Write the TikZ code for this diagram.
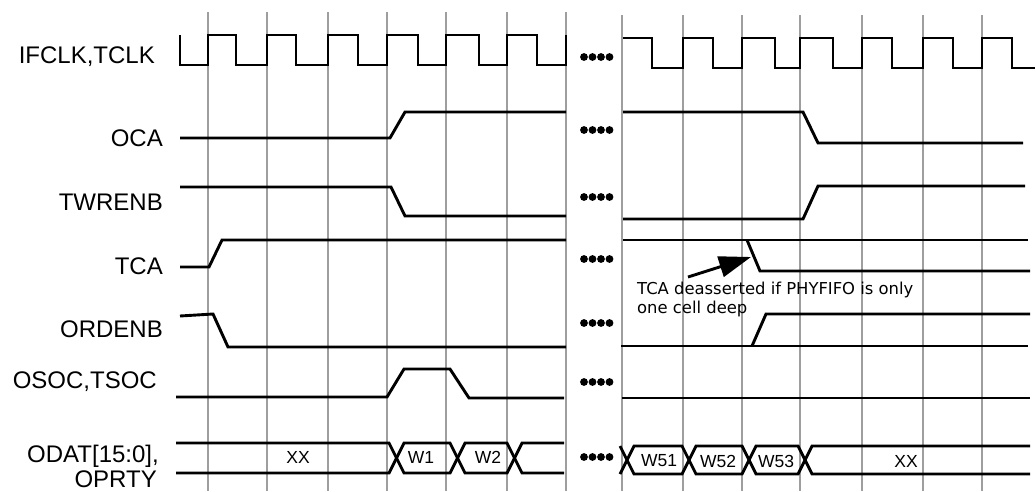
\documentclass[tikz,border=0pt]{standalone}
\usepackage{fontspec}
\setmainfont{Liberation Sans}
\newfontfamily\notefont{DejaVu Sans}
\usetikzlibrary{arrows.meta}
\tikzset{
  grid/.style={draw=black!38, line width=1.4pt},
  sig/.style={draw=black, line width=2.9pt, line join=miter},
  lbl/.style={anchor=base east, inner sep=0pt, font=\fontsize{24}{28}\selectfont},
  buslbl/.style={inner sep=0pt, font=\fontsize{17.5}{20}\selectfont},
  dots/.style={fill=black},
  notetext/.style={anchor=base west, inner sep=0pt, align=left, font=\notefont\fontsize{16.4}{18.5}\selectfont},
  notearrow/.style={draw=black, line width=2.9pt, -{Triangle[length=32pt,width=21pt]}}
}
\newcommand{\fourdots}[1]{%
  \foreach \dx in {584,592.5,601,609.5} {\fill[dots] (\dx,#1) circle (3.9);}}
\begin{document}
\begin{tikzpicture}[x=1pt,y=-1pt]
\useasboundingbox (0,0) rectangle (1036,491);
\fill[white] (0,0) rectangle (1036,491);
% grid
\foreach \gx in {208,267,328,387,446,507,566} {\draw[grid] (\gx,12) -- (\gx,491);}
\foreach \gx in {622,683,742,800,862,923,982} {\draw[grid] (\gx,15) -- (\gx,491);}
% labels
\node[lbl] (lclk) at (155,63) {IFCLK,TCLK};
\node[lbl] (loca) at (163,146) {OCA};
\node[lbl] (ltwr) at (163,210) {TWRENB};
\node[lbl] (ltca) at (163,274) {TCA};
\node[lbl] (lord) at (163,337) {ORDENB};
\node[lbl] (lsoc) at (157,388) {OSOC,TSOC};
\node[lbl] (ldat) at (159,462) {ODAT[15:0],};
\node[lbl] (lprt) at (157,487.5) {OPRTY};
% clock
\draw[sig] (180,35) -- (180,65) -- (208,65) -- (208,35) -- (236,35) -- (236,65) -- (267,65) -- (267,35)
  -- (296,35) -- (296,65) -- (328,65) -- (328,35) -- (358,35) -- (358,65) -- (387,65) -- (387,35)
  -- (418,35) -- (418,65) -- (446,65) -- (446,35) -- (479,35) -- (479,65) -- (507,65) -- (507,35)
  -- (537,35) -- (537,65) -- (566,65) -- (566,35);
\draw[sig] (623,38) -- (652,38) -- (652,68) -- (683,68) -- (683,38) -- (713,38) -- (713,68) -- (742,68)
  -- (742,38) -- (775,38) -- (775,68) -- (800,68) -- (800,38) -- (833,38) -- (833,68) -- (862,68)
  -- (862,38) -- (892,38) -- (892,68) -- (923,68) -- (923,38) -- (953,38) -- (953,68) -- (982,68)
  -- (982,38) -- (1012,38) -- (1012,68) -- (1035,68);
% OCA
\draw[sig] (180,138) -- (390,138) -- (405,112) -- (566,112);
\draw[sig] (623,112) -- (803,112) -- (818,143) -- (1023,143);
% TWRENB
\draw[sig] (180,187) -- (391,187) -- (405,216) -- (566,216);
\draw[sig] (623,219) -- (803,219) -- (818,186) -- (1025,186);
% TCA
\draw[sig] (180,267) -- (209,267) -- (222,240) -- (566,240);
\draw[sig] (623,240) -- (1028,240);
\draw[sig] (747,240) -- (760,271) -- (1030,271);
% ORDENB
\draw[sig] (180,316) -- (213,314) -- (228,347) -- (566,347);
\draw[sig] (621,346) -- (1028,346);
\draw[sig] (752,346) -- (766,314) -- (1030,314);
% OSOC
\draw[sig] (176,397) -- (387,397) -- (404,369) -- (450,369) -- (469,398) -- (564,398);
\draw[sig] (622,398) -- (1030,398);
% ODAT bus
\draw[sig] (176,443) -- (389,443) -- (404,473) -- (450,473) -- (465,443) -- (507,443) -- (522,473) -- (564,473);
\draw[sig] (176,473) -- (389,473) -- (404,443) -- (450,443) -- (465,473) -- (507,473) -- (522,443) -- (564,443);
\draw[sig] (620,446) -- (634,474) -- (682,474) -- (696,446) -- (742,446) -- (756,474) -- (798,474) -- (812,446) -- (1030,446);
\draw[sig] (620,474) -- (634,446) -- (682,446) -- (696,474) -- (742,474) -- (756,446) -- (798,446) -- (812,474) -- (1030,474);
\node[buslbl] (bxx1) at (298,457) {XX};
\node[buslbl] (bw1) at (421,457) {W1};
\node[buslbl] (bw2) at (488,457) {W2};
\node[buslbl] (bw51) at (659,461) {W51};
\node[buslbl] (bw52) at (718,461) {W52};
\node[buslbl] (bw53) at (776,461) {W53};
\node[buslbl] (bxx2) at (906,461) {XX};
% continuation dots
\fourdots{57}
\fourdots{130}
\fourdots{197}
\fourdots{259}
\fourdots{323}
\fourdots{382}
\fourdots{457}
% annotation
\node[notetext] (note) at (637,313) {TCA deasserted if PHYFIFO is only\\one cell deep};
\coordinate (nstart) at (688,277);
\coordinate (ntip) at (751,257);
\draw[notearrow] (nstart) -- (ntip);
\end{tikzpicture}
\end{document}
